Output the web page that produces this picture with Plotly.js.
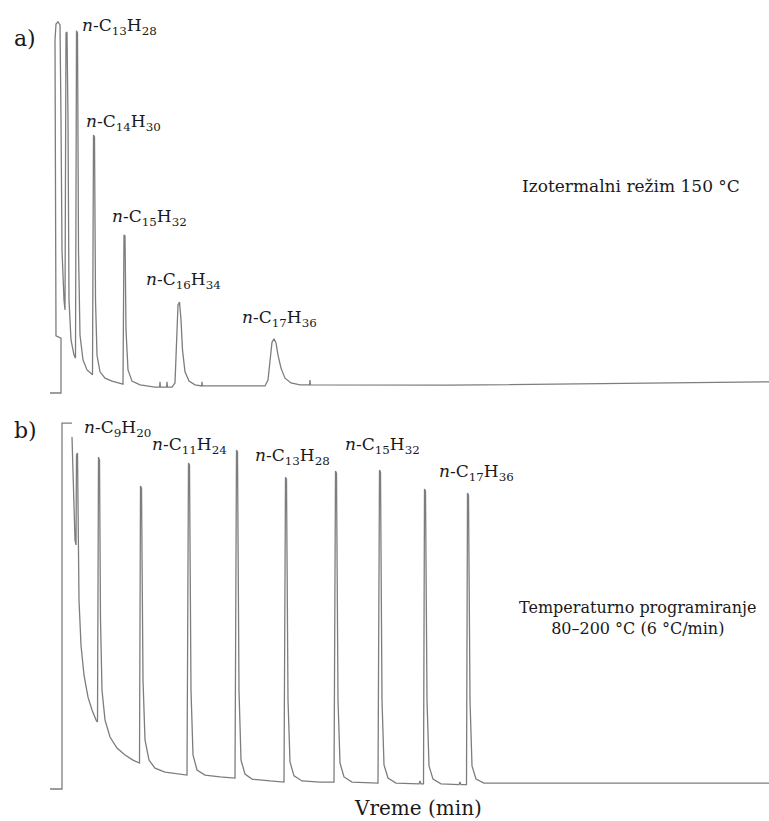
<!DOCTYPE html>
<html>
<head>
<meta charset="utf-8">
<script src="https://cdn.plot.ly/plotly-3.0.1.min.js"></script>
<style>html,body{margin:0;padding:0;background:#fff}#chart{width:769px;height:821px}</style>
</head>
<body>
<div id="chart"></div>
<script>
// ---- Data: a) isothermal 150 °C (time, min ; detector signal, %) ----
const timeA = [0,0.55,0.55,0.30,0.25,0.30,0.40,0.50,0.55,0.60,0.70,0.75,0.80,0.85,0.90,0.95,1.05,1.20,
  1.275,1.325,1.375,1.425,1.5,1.65,1.85,2.05,2.125,2.175,2.225,2.275,2.35,2.5,2.75,3.1,3.55,
  3.65,3.7,3.75,3.8,3.9,4.1,4.5,5.25,5.48,5.5,5.52,5.83,5.85,5.87,
  6.1,6.25,6.325,6.4,6.475,6.55,6.625,6.75,6.95,7.25,7.58,7.6,7.62,
  9.0,10.75,10.9,11.0,11.1,11.2,11.3,11.4,11.55,11.75,12.05,12.5,12.98,13.0,13.02,20,35.95];
const signalA = [0,0,14.8,15.4,95.1,99.4,100,99.2,73.6,38.5,25.1,22.4,97.0,97.3,73.6,25.1,14.3,10.2,
  9.4,97.6,97.0,38.5,15.6,8.9,6.2,5.1,4.9,69.5,69.0,25.1,10.2,5.7,4.0,3.2,2.7,
  2.4,42.6,42.3,17.0,6.2,3.2,2.2,1.6,1.6,3.0,1.6,1.6,3.0,1.6,
  1.6,2.7,14.3,23.7,24.5,19.7,11.6,5.7,3.2,2.2,1.9,3.0,1.9,
  1.9,1.9,3.5,9.4,13.7,14.6,13.5,10.2,6.7,4.0,2.7,2.2,2.2,3.5,2.2,2.1,3.0];

// ---- Data: b) temperature programme 80–200 °C (6 °C/min) ----
const timeB = [0,0.6,0.6,1.1,null,1.1,1.15,1.2,1.25,1.3,1.325,1.375,1.4,1.45,1.55,1.7,1.9,2.1,2.3,
  2.375,2.425,2.475,2.525,2.6,2.75,3.0,3.35,3.75,4.15,4.475,
  4.525,4.575,4.65,4.75,4.95,5.25,5.75,6.4,6.85,
  6.925,6.975,7.05,7.15,7.35,7.75,8.5,9.25,
  9.325,9.375,9.45,9.55,9.75,10.1,11.0,11.7,
  11.775,11.825,11.9,12.0,12.2,12.6,13.5,14.2,
  14.275,14.325,14.4,14.5,14.7,15.1,16.4,
  16.475,16.525,16.6,16.7,16.9,17.3,18.3,18.45,18.5,18.55,18.675,
  18.725,18.775,18.85,18.95,19.15,19.55,20.45,20.5,20.55,20.825,
  20.875,20.925,21.0,21.1,21.3,21.7,35.95];
const signalB = [0,0,100,100,null,96.2,87.2,73.5,68.0,66.7,91.3,91.8,68.0,51.6,39.3,31.1,25.1,21.6,18.9,
  18.3,90.7,89.9,46.2,27.0,18.9,14.2,11.2,9.3,7.9,7.1,
  82.8,82.2,29.8,13.4,7.9,5.7,4.6,4.1,3.8,
  89.1,88.5,27.0,9.3,5.2,3.8,3.3,3.0,
  92.6,92.1,27.0,7.9,4.1,2.7,2.2,1.9,
  85.2,84.7,24.3,7.4,3.6,2.2,1.9,1.9,
  86.9,86.3,24.3,7.1,3.3,1.9,1.6,
  87.2,86.6,24.3,6.6,3.0,1.6,1.4,1.4,2.2,1.4,1.4,
  82.0,81.4,24.3,6.3,2.7,1.4,1.2,1.9,1.2,1.2,
  80.9,80.3,24.3,6.3,2.7,1.6,1.6];

// ---- Peak labels ----
const labelsA = [["13","28"],["14","30"],["15","32"],["16","34"],["17","36"]];
const labelsB = [["9","20"],["11","24"],["13","28"],["15","32"],["17","36"]];
const panelTags = ["a)","b)"];
const noteA = "Izotermalni režim 150 °C";
const noteB = ["Temperaturno programiranje","80–200 °C (6 °C/min)"];
const xTitle = "Vreme (min)";

// ---- layout helpers (pixel placement -> paper) ----
const W = 769, H = 821;
const px = x => x / W;
const py = y => 1 - y / H;
const FONT = "DejaVu Serif";
const INK = "#1a1a1a";
const lbl = p => "<i>n</i>-C<sub>" + p[0] + "</sub>H<sub>" + p[1] + "</sub>";

const posA = [[80,26],[84,122],[110,217],[144,280],[240,318]];
const posB = [[82,428],[150,445],[253,456],[343,446],[437,472]];

const ann = [];
labelsA.forEach((p,i)=>ann.push({text:lbl(p),xref:"paper",yref:"paper",x:px(posA[i][0]),y:py(posA[i][1]),xanchor:"left",yanchor:"middle",showarrow:false,font:{family:FONT,size:17,color:INK}}));
labelsB.forEach((p,i)=>ann.push({text:lbl(p),xref:"paper",yref:"paper",x:px(posB[i][0]),y:py(posB[i][1]),xanchor:"left",yanchor:"middle",showarrow:false,font:{family:FONT,size:17,color:INK}}));
ann.push({text:panelTags[0],xref:"paper",yref:"paper",x:px(25),y:py(38),xanchor:"center",yanchor:"middle",showarrow:false,font:{family:FONT,size:22,color:INK}});
ann.push({text:panelTags[1],xref:"paper",yref:"paper",x:px(25),y:py(431),xanchor:"center",yanchor:"middle",showarrow:false,font:{family:FONT,size:22,color:INK}});
ann.push({text:noteA,xref:"paper",yref:"paper",x:px(520),y:py(186),xanchor:"left",yanchor:"middle",showarrow:false,font:{family:FONT,size:17,color:INK}});
ann.push({text:noteB.join("<br>"),xref:"paper",yref:"paper",x:px(638),y:py(618),xanchor:"center",yanchor:"middle",align:"center",showarrow:false,font:{family:FONT,size:16,color:INK}});
ann.push({text:xTitle,xref:"paper",yref:"paper",x:px(418),y:py(808),xanchor:"center",yanchor:"middle",showarrow:false,font:{family:FONT,size:20,color:INK}});

const lineStyle = {color:"#7d7d7d", width:1.3};
const traces = [
  {x:timeA, y:signalA, xaxis:"x", yaxis:"y", mode:"lines", line:lineStyle, hoverinfo:"skip", connectgaps:false},
  {x:timeB, y:signalB, xaxis:"x2", yaxis:"y2", mode:"lines", line:lineStyle, hoverinfo:"skip", connectgaps:false}
];

const hidden = {visible:false, fixedrange:true};
const layout = {
  width:W, height:H, margin:{l:0,r:0,t:0,b:0},
  paper_bgcolor:"#fff", plot_bgcolor:"#fff", showlegend:false,
  font:{family:FONT},
  xaxis:Object.assign({domain:[0,1], range:[-2.5,35.95], anchor:"y"}, hidden),
  yaxis:Object.assign({domain:[py(400),1], range:[-1.89,105.9], anchor:"x"}, hidden),
  xaxis2:Object.assign({domain:[0,1], range:[-2.5,35.95], anchor:"y2"}, hidden),
  yaxis2:Object.assign({domain:[0,py(400)], range:[-8.74,106.3], anchor:"x2"}, hidden),
  annotations:ann
};
Plotly.newPlot("chart", traces, layout, {staticPlot:true, displayModeBar:false});
</script>
</body>
</html>
